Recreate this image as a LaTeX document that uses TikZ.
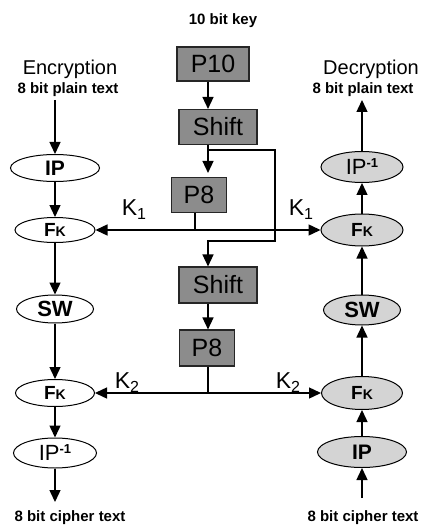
\documentclass[tikz,border=0pt]{standalone}
\usepackage{fontspec}
\setmainfont{Liberation Sans}
\usetikzlibrary{shapes.geometric,arrows.meta}
\definecolor{boxgray}{HTML}{8C8C8C}
\definecolor{ellgray}{HTML}{D4D4D4}
\newcommand{\fsz}[1]{\fontsize{#1}{#1}\selectfont}
\newcommand{\FKtxt}{{\bfseries\fsz{19}F\fsz{14}K}}
\newcommand{\IPinv}{{\fsz{22}IP\raisebox{7pt}{\bfseries\fsz{13}-1}}}
\newcommand{\Ksub}[1]{{\fsz{23}K\raisebox{-4pt}{\fsz{16}#1}}}
\begin{document}
\begin{tikzpicture}[x=1pt,y=-1pt,
  txt/.style={inner sep=0pt},
  keybox/.style={draw=black!85,line width=1.1pt,fill=boxgray,inner sep=0pt,font=\fsz{25}},
  ell/.style={ellipse,draw,line width=1pt,inner sep=0pt},
  ellg/.style={ell,fill=ellgray},
  conn/.style={line width=1.4pt},
  arr/.style={conn,-{Triangle[length=12pt,width=11pt]}}]
\useasboundingbox (0,0) rectangle (425,529);

% key schedule
\node[txt,font=\bfseries\fsz{15}] (key) at (223,21) {10 bit key};
\node[keybox,minimum width=72pt,minimum height=34pt] (P10) at (213,64) {P10};
\node[keybox,minimum width=78pt,minimum height=35pt] (S1) at (218,127) {Shift};
\node[keybox,minimum width=55pt,minimum height=35pt] (P8a) at (199,195) {P8};
\node[keybox,minimum width=78pt,minimum height=36pt] (S2) at (218,285) {Shift};
\node[keybox,minimum width=55pt,minimum height=36pt] (P8b) at (207,348) {P8};

% left column
\node[txt,font=\fsz{20}] (encT) at (70,69) {Encryption};
\node[txt,font=\bfseries\fsz{15}] (plainL) at (68,90) {8 bit plain text};
\node[ell,minimum width=89pt,minimum height=27pt,font=\bfseries\fsz{21}] (IPL) at (55,168) {IP};
\node[ell,minimum width=80pt,minimum height=25pt] (FkL1) at (55,230) {\FKtxt};
\node[ell,minimum width=77pt,minimum height=28pt,font=\bfseries\fsz{22}] (SWL) at (55,309) {SW};
\node[ell,minimum width=79pt,minimum height=27pt] (FkL2) at (55,393) {\FKtxt};
\node[ell,minimum width=83pt,minimum height=30pt] (IPiL) at (55,453) {\IPinv};
\node[txt,font=\bfseries\fsz{15}] (cipherL) at (70,518) {8 bit cipher text};

% right column
\node[txt,font=\fsz{20}] (decT) at (371,69) {Decryption};
\node[txt,font=\bfseries\fsz{15}] (plainR) at (363,90) {8 bit plain text};
\node[ellg,minimum width=82pt,minimum height=31pt] (IPiR) at (362,167) {\IPinv};
\node[ellg,minimum width=82pt,minimum height=32pt] (FkR1) at (362,230) {\FKtxt};
\node[ellg,minimum width=77pt,minimum height=30pt,font=\bfseries\fsz{22}] (SWR) at (362,310) {SW};
\node[ellg,minimum width=81pt,minimum height=33pt] (FkR2) at (362,393) {\FKtxt};
\node[ellg,minimum width=89pt,minimum height=31pt,font=\bfseries\fsz{21}] (IPR) at (362,452) {IP};
\node[txt,font=\bfseries\fsz{15}] (cipherR) at (363,518) {8 bit cipher text};

% key labels
\node[txt] (K1L) at (134,210) {\Ksub{1}};
\node[txt] (K1R) at (301,210) {\Ksub{1}};
\node[txt] (K2L) at (127,383) {\Ksub{2}};
\node[txt] (K2R) at (288,383) {\Ksub{2}};

% free ends
\coordinate (inL) at (55,100);
\coordinate (outL) at (55,502);
\coordinate (outR) at (362,100);
\coordinate (inR) at (362,498);
\coordinate (kx) at (208,0);
\coordinate (b1) at (208,150);
\coordinate (b2) at (275,150);
\coordinate (b3) at (275,241);
\coordinate (b4) at (208,241);
\coordinate (k1) at (195,230);
\coordinate (k2) at (208,393);

% encryption flow
\draw[arr] (inL) -- (IPL);
\draw[arr] (IPL) -- (FkL1);
\draw[arr] (FkL1) -- (SWL);
\draw[arr] (SWL) -- (FkL2);
\draw[arr] (FkL2) -- (IPiL);
\draw[arr] (IPiL) -- (outL);

% decryption flow
\draw[arr] (inR) -- (IPR);
\draw[arr] (IPR) -- (FkR2);
\draw[arr] (FkR2) -- (SWR);
\draw[arr] (SWR) -- (FkR1);
\draw[arr] (FkR1) -- (IPiR);
\draw[arr] (IPiR) -- (outR);

% key schedule flow
\draw[arr] (P10.south -| kx) -- (S1.north -| kx);
\draw[arr,shorten >=4pt] (S1.south -| kx) -- (P8a.north -| kx);
\draw[arr] (b1) -- (b2) -- (b3) -- (b4) -- (S2.north -| b4);
\draw[arr] (S2.south -| kx) -- (P8b.north -| kx);

% subkeys
\draw[conn] (P8a.south -| k1) -- (k1);
\draw[arr] (k1) -- (FkL1.east);
\draw[arr] (k1) -- (FkR1.west);
\draw[conn] (P8b.south -| k2) -- (k2);
\draw[arr] (k2) -- (FkL2.east);
\draw[arr] (k2) -- (FkR2.west);
\end{tikzpicture}
\end{document}
